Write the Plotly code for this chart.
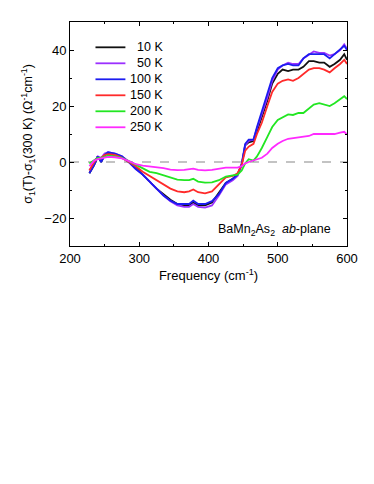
import plotly.graph_objects as go

freq = [228, 235, 240, 245, 250, 255, 265, 275, 285, 295, 305, 315, 325, 335, 345, 355, 365, 372, 378, 385,
        395, 405, 415, 425, 435, 442, 448, 453, 458, 465, 470, 477, 485, 492, 500, 507, 515, 522, 530, 537,
        545, 552, 560, 567, 575, 582, 590, 596, 600]

s10K = [-4, -1, 2, 0, 2.5, 3, 2.5, 1.5, 0, -2, -4.5, -7, -9.5, -11.5, -13.5, -15, -15.5, -15.5, -14.5, -15.5,
        -15.5, -14.5, -11, -7.5, -6, -4.5, -1, 6, 7, 7.5, 11, 16, 22, 28, 31.5, 33, 32.5, 33, 33, 34,
        36, 36, 35.5, 35.5, 34, 35, 36.5, 38.5, 36.5]
s50K = [-3, 0, 2, 1.5, 3, 3.5, 3, 2, 0, -2.5, -4.5, -7, -9.5, -12, -14, -15.5, -16, -16, -15, -16,
        -16.3, -15.5, -12, -8, -6.5, -5, -1, 6, 7.5, 8, 12, 17, 23, 29, 33, 34.5, 35.5, 35, 35, 37,
        38.5, 39.5, 39, 39, 38, 38.5, 40, 42, 40.5]
s100K = [-4, -1, 2, 0, 2.5, 3.5, 3, 2, 0, -2.5, -4.5, -7, -9.5, -12, -13.8, -15, -15, -15, -13.8, -15,
         -15, -14, -11.5, -7.5, -6, -4.5, -0.5, 6.5, 8, 8, 12.5, 18, 24, 30, 33.5, 34.5, 35, 34.5, 34.5, 37,
         38.5, 38.5, 38.5, 38.5, 37, 38.5, 40.5, 41.5, 40]
s150K = [-3, 0, 1.5, 1.5, 2.5, 2.8, 2.5, 1.5, 0, -1.5, -3.5, -5, -6.5, -8, -9.5, -10.5, -10.8, -10.5, -9.8, -10.8,
         -11.2, -10.5, -8, -5.5, -5, -4, -1, 4, 5.5, 6.5, 10, 14, 20, 25, 28, 29, 29.5, 29, 30, 31.5,
         33, 33.5, 33.5, 33, 32, 33.5, 35, 36.5, 35]
s200K = [-0.5, 0.5, 1.5, 1.5, 2, 2.3, 2, 1.5, 0.3, -1, -2.5, -3.5, -4, -4.8, -5.5, -6.3, -6.5, -6.5, -6, -7,
         -7.4, -7.3, -6.5, -5.2, -4.8, -4.5, -3, -0.5, 1, 0.5, 2, 5, 9, 12.5, 15, 16, 17, 16.8, 17.5, 17.5,
         19, 20.5, 21, 20.5, 20, 21, 22.5, 23.5, 22.5]
s250K = [-1.5, 0.5, 1, 1.3, 1.5, 1.8, 1.7, 1.3, 0.3, -0.8, -1.3, -1.6, -1.8, -2.2, -2.7, -2.9, -2.8, -2.6, -2.4, -2.8,
         -3, -2.8, -2.3, -2, -2, -2, -1.5, -0.5, 0, 0.5, 1, 1.5, 3, 5, 6.5, 7.5, 8.3, 8.5, 8.8, 9,
         9.3, 10, 10, 10, 9.8, 10, 10.5, 10.8, 9.8]

labels = ["10 K", "50 K", "100 K", "150 K", "200 K", "250 K"]
series = [s10K, s50K, s100K, s150K, s200K, s250K]
colors = ["#111111", "#9b30ff", "#1c1cf0", "#ff2a2a", "#22e622", "#ff2aff"]

x_ticks = [200, 300, 400, 500, 600]
y_ticks = [-20, 0, 20, 40]

fig = go.Figure()
for lab, ys, c in zip(labels, series, colors):
    fig.add_trace(go.Scatter(x=freq, y=ys, mode="lines", name=lab, showlegend=False,
                             line=dict(color=c, width=1.8)))

fig.add_shape(type="line", xref="paper", yref="y", x0=0, x1=1, y0=0, y1=0,
              line=dict(color="#888888", width=1.2, dash="dash"), layer="below")

# manual legend (right-aligned labels, tight row spacing)
leg_top = 0.887
leg_step = 0.0714
for i, (lab, c) in enumerate(zip(labels, colors)):
    yy = leg_top - i * leg_step
    fig.add_shape(type="line", xref="paper", yref="paper", x0=0.092, x1=0.200, y0=yy, y1=yy,
                  line=dict(color=c, width=1.8))
    fig.add_annotation(x=0.344, y=yy, xref="paper", yref="paper", xanchor="right", yanchor="middle",
                       text=lab, showarrow=False, font=dict(size=12.5, color="black"))

axis_common = dict(showline=True, linecolor="black", linewidth=1, mirror="ticks",
                   ticks="inside", ticklen=4, tickwidth=1, tickcolor="black",
                   showgrid=False, zeroline=False, automargin=False,
                   tickfont=dict(family="Liberation Sans, Arial", size=13, color="black"))

fig.update_layout(
    width=366, height=476,
    margin=dict(l=62, r=27, t=14, b=238),
    paper_bgcolor="white", plot_bgcolor="white",
    font=dict(family="Liberation Sans, Arial", color="black"),
    xaxis=dict(range=[200, 600], tickvals=x_ticks,
               minor=dict(ticks="inside", ticklen=2, dtick=50, tick0=200, tickcolor="black"),
               title=dict(text="Frequency (cm<sup>-1</sup>)", font=dict(size=13), standoff=6),
               **axis_common),
    yaxis=dict(range=[-30, 50], tickvals=y_ticks,
               minor=dict(ticks="inside", ticklen=2, dtick=10, tick0=0, tickcolor="black"),
               title=dict(text="σ<sub>1</sub>(T)-σ<sub>1</sub>(300 K) (Ω<sup>-1</sup>cm<sup>-1</sup>)",
                          font=dict(size=12.5), standoff=8),
               **axis_common),
    showlegend=False,
)

fig.add_annotation(x=0.95, y=0.07, xref="paper", yref="paper", xanchor="right", yanchor="middle",
                   text="BaMn<sub>2</sub>As<sub>2</sub>  <i>ab</i>-plane", showarrow=False,
                   font=dict(size=12.5, color="black"))

fig.write_html("out.html")
